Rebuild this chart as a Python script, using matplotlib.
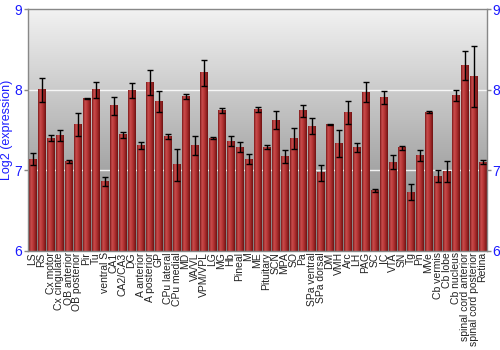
import numpy as np
import matplotlib
matplotlib.use("Agg")
import matplotlib.pyplot as plt
from matplotlib.colors import LinearSegmentedColormap

plt.rcParams["font.family"] = ["Liberation Sans", "DejaVu Sans"]

regions = ["LS", "RS", "Cx motor", "Cx cingulate", "OB anterior", "OB posterior",
           "Pir", "Tu", "ventral S", "CA1", "CA2/CA3", "DG", "A anterior",
           "A posterior", "GP", "CPu lateral", "CPu medial", "MD", "VA/VL",
           "VPM/VPL", "LG", "MG", "Hb", "Pineal", "M", "ME", "Pituitary", "SCN",
           "MPA", "SO", "Pa", "SPa ventral", "SPa dorsal", "DM", "VMH", "Arc",
           "LH", "PAG", "SC", "IC", "VTA", "SN", "Tg", "Pn", "MVe", "Cb vermis",
           "Cb lobe", "Cb nucleus", "spinal cord anterior",
           "spinal cord posterior", "Retina"]
expression = [7.14, 8.00, 7.40, 7.43, 7.11, 7.57, 7.89, 8.00, 6.86, 7.80,
              7.44, 7.99, 7.31, 8.09, 7.85, 7.42, 7.07, 7.92, 7.31, 8.21,
              7.40, 7.74, 7.36, 7.29, 7.14, 7.75, 7.29, 7.62, 7.17, 7.39,
              7.74, 7.55, 6.97, 7.57, 7.33, 7.72, 7.28, 7.97, 6.75, 7.90,
              7.10, 7.28, 6.73, 7.18, 7.72, 6.93, 6.98, 7.93, 8.30, 8.16,
              7.10]
errors = [0.07, 0.15, 0.035, 0.07, 0.015, 0.14, 0.01, 0.10, 0.055, 0.11,
          0.035, 0.095, 0.04, 0.15, 0.13, 0.035, 0.20, 0.03, 0.12, 0.16,
          0.01, 0.03, 0.06, 0.065, 0.06, 0.03, 0.03, 0.11, 0.085, 0.13,
          0.075, 0.095, 0.10, 0.01, 0.165, 0.14, 0.055, 0.12, 0.02, 0.08,
          0.085, 0.025, 0.10, 0.07, 0.01, 0.08, 0.13, 0.07, 0.18, 0.38,
          0.025]

ymin, ymax = 6, 9
blue = "#1a1aff"

fig = plt.figure(figsize=(5, 3.5), dpi=100)
ax = fig.add_axes([0.056, 0.283, 0.918, 0.691])

n = len(regions)
x = np.arange(n)
xlim = (-0.5, n - 0.5)

# grey background gradient, dark at bottom, light at top
bg = np.linspace(1, 0, 256).reshape(-1, 1)
bg_cmap = LinearSegmentedColormap.from_list("bg", ["#f2f2f2", "#7e7e7e"])
ax.imshow(bg, cmap=bg_cmap, aspect="auto", origin="lower",
          extent=(xlim[0], xlim[1], ymin, ymax), zorder=0)

for v in [7, 8]:
    ax.axhline(v, color="white", lw=1.0, alpha=0.85, zorder=1)

# bars with a horizontal red gradient
bar_cmap = LinearSegmentedColormap.from_list(
    "bar", ["#7e1a1a", "#c84c4c", "#bb3a3a", "#9c2626", "#701212"])
grad = np.linspace(0, 1, 32).reshape(1, -1)
w = 0.84
for xi, val in zip(x, expression):
    ax.imshow(grad, cmap=bar_cmap, aspect="auto",
              extent=(xi - w / 2, xi + w / 2, ymin, val), zorder=2)

ax.errorbar(x, expression, yerr=errors, fmt="none", ecolor="black",
            elinewidth=1.0, capsize=2, capthick=1.0, zorder=3)

ax.set_xlim(xlim)
ax.set_ylim(ymin, ymax)
ax.set_xticks(x)
ax.set_xticklabels(regions, rotation=90, fontsize=7.5, color="#222222")
ax.tick_params(axis="x", length=0, pad=1)

ax.set_yticks([6, 7, 8, 9])
ax.tick_params(axis="y", colors="#888888", labelcolor=blue, labelsize=10,
               length=3, width=1, left=True, right=True,
               labelleft=True, labelright=True, pad=1)
ax.set_ylabel("Log2 (expression)", color=blue, fontsize=9, labelpad=1)

for s in ax.spines.values():
    s.set_color("#888888")
    s.set_linewidth(1)

fig.savefig("out.png", dpi=100)
